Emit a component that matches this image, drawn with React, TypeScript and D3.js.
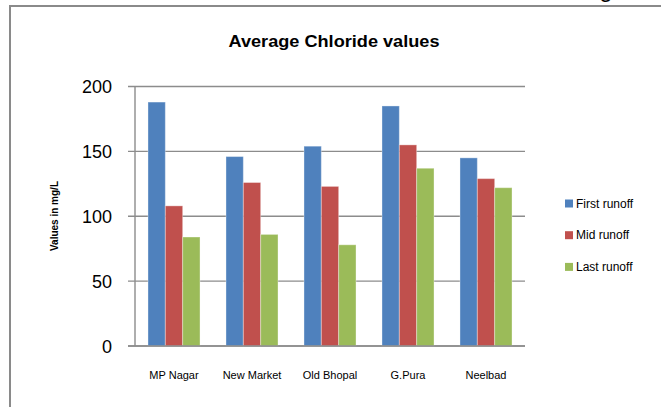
import React from "react";
import * as d3 from "d3";

const categories = ["MP Nagar", "New Market", "Old Bhopal", "G.Pura", "Neelbad"];
const seriesNames = ["First runoff", "Mid runoff", "Last runoff"];
const firstRunoff = [188, 146, 154, 185, 145];
const midRunoff = [108, 126, 123, 155, 129];
const lastRunoff = [84, 86, 78, 137, 122];
const yTicks = [0, 50, 100, 150, 200];
const colors = ["#4F81BD", "#C0504D", "#9BBB59"];

const W = 661;
const H = 407;
const plot = { left: 135, right: 525, top: 86.5, bottom: 346 };

export default function App() {
  const series = [firstRunoff, midRunoff, lastRunoff];
  const x0 = d3.scaleBand<string>().domain(categories).range([plot.left, plot.right]).paddingInner(0).paddingOuter(0);
  const groupW = x0.bandwidth() * 0.667;
  const x1 = d3.scaleBand<number>().domain([0, 1, 2]).range([0, groupW]);
  const y = d3.scaleLinear().domain([0, 200]).range([plot.bottom, plot.top]);
  const font = "'Liberation Sans', Arial, sans-serif";

  return (
    <svg width={W} height={H} style={{ position: "absolute", left: 0, top: 0, background: "#fff" }} fontFamily={font}>
      <rect x={0} y={0} width={W} height={H} fill="#fff" />
      <text x={606} y={-3} fontSize={24} textAnchor="middle" fill="#000">g</text>
      <rect x={10} y={6} width={W + 20} height={H + 20} fill="none" stroke="#8a8a8a" strokeWidth={2} />
      <text x={334} y={47} textAnchor="middle" fontSize={17} fontWeight="bold" fill="#000" textLength={211} lengthAdjust="spacingAndGlyphs">Average Chloride values</text>

      {yTicks.map((t) => (
        <g key={t}>
          <line x1={128} x2={t === 0 ? plot.right : plot.right} y1={y(t)} y2={y(t)} stroke="#8c8c8c" strokeWidth={1.4} />
          <text x={112} y={y(t) + 6.5} textAnchor="end" fontSize={18} fill="#000">{t}</text>
        </g>
      ))}
      <line x1={plot.left} x2={plot.left} y1={plot.top} y2={plot.bottom} stroke="#8c8c8c" strokeWidth={1.4} />

      {categories.map((c, i) => {
        const gx = (x0(c) as number) + (x0.bandwidth() - groupW) / 2;
        return (
          <g key={c}>
            {series.map((s, j) => (
              <rect
                key={j}
                x={gx + (x1(j) as number)}
                y={y(s[i])}
                width={x1.bandwidth()}
                height={plot.bottom - y(s[i])}
                fill={colors[j]}
                stroke="#ffffff"
                strokeOpacity={0.35}
                strokeWidth={1}
              />
            ))}
            <text x={(x0(c) as number) + x0.bandwidth() / 2} y={379} textAnchor="middle" fontSize={11} fill="#000">{c}</text>
          </g>
        );
      })}
      <line x1={128} x2={plot.right} y1={plot.bottom} y2={plot.bottom} stroke="#8c8c8c" strokeWidth={1.4} />

      <text transform={`translate(58,216) rotate(-90)`} textAnchor="middle" fontSize={10} fontWeight="bold" fill="#000">Values in mg/L</text>

      {seriesNames.map((n, j) => (
        <g key={n} transform={`translate(565, ${203.5 + j * 31.7})`}>
          <rect x={0} y={-4} width={8} height={8} fill={colors[j]} />
          <text x={11} y={4.2} fontSize={12} fill="#000">{n}</text>
        </g>
      ))}
    </svg>
  );
}
